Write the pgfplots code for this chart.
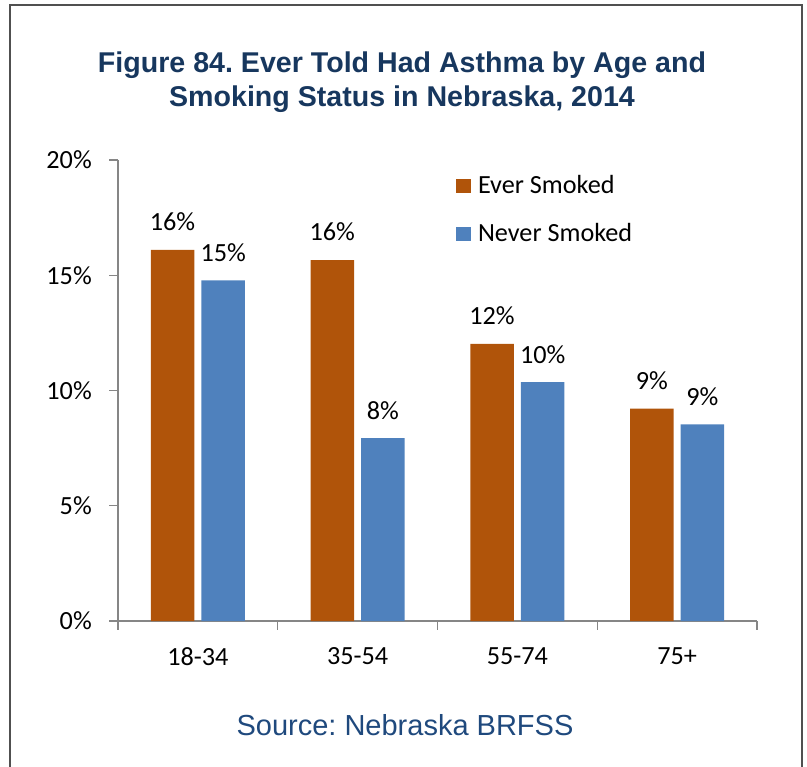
\documentclass[border=0pt]{standalone}
\usepackage{fontspec}
\setmainfont{Carlito}
\newfontfamily\arial{Liberation Sans}
\usepackage{pgfplots}
\pgfplotsset{compat=1.18}
\frenchspacing

\definecolor{ever}{RGB}{176,84,10}
\definecolor{never}{RGB}{79,129,189}
\definecolor{titleblue}{RGB}{23,55,94}
\definecolor{srcblue}{RGB}{31,73,125}
\definecolor{axisgray}{RGB}{134,134,134}
\definecolor{framegray}{RGB}{80,80,80}

\newcommand{\lblfont}{\fontsize{19.65}{23.6}\selectfont}

\begin{document}
\begin{tikzpicture}
\path[use as bounding box] (0,0) rectangle (605.25pt,-575.25pt);
% frame, title and source in pixel units (y down)
\begin{scope}[x=0.75pt,y=-0.75pt]
  \draw[framegray, line width=1.5pt] (10,770) -- (10,5) -- (802,5) -- (802,770);
  \node[anchor=base, inner sep=0pt, text=titleblue, font=\arial\bfseries\fontsize{21.45}{24}\selectfont]
    at (402,73) {Figure 84. Ever Told Had Asthma by Age and};
  \node[anchor=base, inner sep=0pt, text=titleblue, font=\arial\bfseries\fontsize{21.45}{24}\selectfont]
    at (402,107) {Smoking Status in Nebraska, 2014};
  \node[anchor=base, inner sep=0pt, text=srcblue, font=\arial\fontsize{21.75}{24}\selectfont]
    at (405,735) {Source: Nebraska BRFSS};
\end{scope}

\begin{axis}[
  at={(88.5pt,-465.75pt)}, anchor=south west,
  width=479.25pt, height=345.75pt, scale only axis,
  ybar, bar width=32.6pt,
  xmin=-0.5, xmax=3.5, ymin=0, ymax=20,
  xtick={-0.5,0.5,1.5,2.5,3.5}, x tick label as interval,
  xticklabels={18-34,35-54,55-74,75+},
  ytick={0,5,10,15,20},
  yticklabels={0\%,5\%,10\%,15\%,20\%},
  axis x line*=bottom, axis y line*=left,
  axis line style={axisgray, line width=1pt},
  tick style={axisgray, line width=1pt},
  major tick length=6.5pt, tick align=outside,
  tick label style={font=\lblfont, text=black},
  xticklabel style={inner sep=0pt, anchor=north, yshift=-13pt},
  yticklabel style={inner sep=0pt, anchor=east, xshift=-13pt},
  /pgf/number format/assume math mode=true,
  nodes near coords={\pgfmathprintnumber[fixed,precision=0]{\pgfplotspointmeta}\%},
  every node near coord/.append style={font=\lblfont, text=black, inner sep=0pt, anchor=south, yshift=14pt},
  clip=false,
  legend cell align=left,
  legend style={at={(0.529,0.9668)}, anchor=north west, draw=none, fill=none,
    inner sep=0pt, outer sep=0pt, row sep=22pt, font=\lblfont,
    nodes={inner sep=0pt, text height=14pt, text depth=0pt},
    /tikz/every odd column/.append style={column sep=5.25pt}},
  legend image code/.code={\fill[#1] (0pt,-6.42pt) rectangle (11.25pt,4.08pt);},
]
\addplot[fill=ever, draw=none, bar shift=-19pt]
  coordinates {(0,16.1) (1,15.66) (2,12.02) (3,9.21)};
\addplot[fill=never, draw=none, bar shift=19pt]
  coordinates {(0,14.78) (1,7.93) (2,10.36) (3,8.53)};
\legend{Ever Smoked, Never Smoked}
\end{axis}
\end{tikzpicture}
\end{document}
